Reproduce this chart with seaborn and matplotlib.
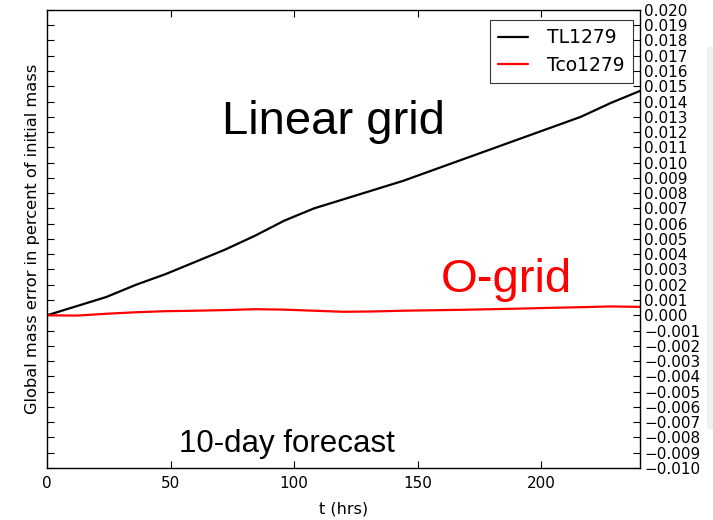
import matplotlib
matplotlib.use("Agg")
import matplotlib.pyplot as plt
import seaborn as sns
import pandas as pd
from matplotlib.patches import Rectangle

t_hrs = [0, 12, 24, 36, 48, 60, 72, 84, 96, 108, 120, 132, 144, 156, 168, 180, 192, 204, 216, 228, 240]
tl1279 = [0.0, 0.0006, 0.0012, 0.0020, 0.0027, 0.0035, 0.0043, 0.0052, 0.0062, 0.0070, 0.0076, 0.0082, 0.0088, 0.0095, 0.0102, 0.0109, 0.0116, 0.0123, 0.0130, 0.0139, 0.0147]
tco1279 = [0.0, -0.00002, 0.0001, 0.0002, 0.00027, 0.0003, 0.00034, 0.0004, 0.00037, 0.0003, 0.00023, 0.00025, 0.0003, 0.00033, 0.00036, 0.0004, 0.00044, 0.00049, 0.00053, 0.00058, 0.00055]
series_names = ["TL1279", "Tco1279"]
series_colors = ["black", "red"]
x_ticks = [0, 50, 100, 150, 200]
y_ticks = [i / 1000 for i in range(-10, 21)]

df = pd.concat([
    pd.DataFrame({"t": t_hrs, "err": tl1279, "run": series_names[0]}),
    pd.DataFrame({"t": t_hrs, "err": tco1279, "run": series_names[1]}),
])

sns.set_style("ticks")
plt.rcParams['font.family'] = ['DejaVu Sans']
plt.rcParams['text.color'] = 'black'
plt.rcParams['axes.labelcolor'] = 'black'
plt.rcParams['xtick.color'] = 'black'
plt.rcParams['ytick.color'] = 'black'

fig = plt.figure(figsize=(7.13, 5.2), dpi=100)
ax = fig.add_axes([0.066, 0.1, 0.832, 0.881])

sns.lineplot(data=df, x="t", y="err", hue="run", palette=series_colors,
             hue_order=series_names, linewidth=1.6, ax=ax)

ax.set_xlim(0, 240)
ax.set_ylim(-0.010, 0.020)
ax.set_xticks(x_ticks)
ax.set_yticks(y_ticks)
ax.set_yticklabels([f"{v:.3f}".replace("-", "\u2212") for v in y_ticks])
ax.tick_params(axis='y', left=True, right=True, labelleft=False, labelright=True,
               direction='in', length=5, width=0.8, labelsize=11, pad=3)
ax.tick_params(axis='x', bottom=True, top=True, direction='in', length=5, width=0.8,
               labelsize=11, pad=6)
for s in ax.spines.values():
    s.set_visible(True)
    s.set_color("black")
    s.set_linewidth(1.0)

ax.set_xlabel("t (hrs)", fontsize=11.5, labelpad=7)
ax.set_ylabel("Global mass error in percent of initial mass", fontsize=11.7, labelpad=5)

leg = ax.legend(loc="upper right", fontsize=13.5, frameon=True, fancybox=False,
                edgecolor="black", handlelength=1.6, handletextpad=1.0,
                borderpad=0.45, borderaxespad=0, labelspacing=0.45,
                bbox_to_anchor=(0.988, 0.978))
leg.get_frame().set_linewidth(0.8)
leg.set_title(None)

ax.text(0.483, 0.755, "Linear grid", transform=ax.transAxes, ha="center", va="center",
        fontsize=34, family=["Liberation Sans"], color="black")
ax.text(0.775, 0.41, "O-grid", transform=ax.transAxes, ha="center", va="center",
        fontsize=34, family=["Liberation Sans"], color="red")
ax.text(0.404, 0.052, "10-day forecast", transform=ax.transAxes, ha="center", va="center",
        fontsize=22.5, family=["Liberation Sans"], color="black")

fig.patches.append(Rectangle((0.991, 0.175), 0.009, 0.735, transform=fig.transFigure,
                             facecolor="#f0f0f0", edgecolor="none", zorder=-1))

fig.savefig("out.png", dpi=100)
